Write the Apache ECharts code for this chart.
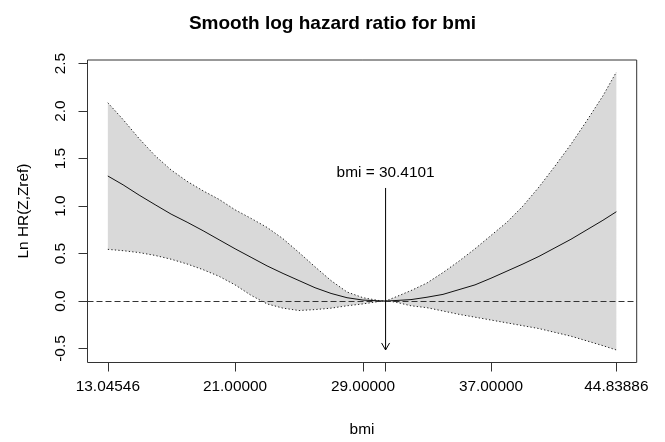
<!DOCTYPE html>
<html><head><meta charset="utf-8">
<script src="https://cdn.jsdelivr.net/npm/echarts@6/dist/echarts.min.js"></script>
<style>html,body{margin:0;padding:0;background:#fff}#c{width:665px;height:442px}</style>
</head><body><div id="c"></div>
<script>
// ---- data ----
const bmi = [13.04546,14,15,16,17,18,19,20,21,22,23,24,25,26,27,28,29,30,30.4101,
             31,32,33,34,35,36,37,38,39,40,41,42,43,44,44.83886];
const estimate = [1.316,1.223,1.115,1.014,0.915,0.830,0.740,0.645,0.550,0.460,0.370,0.290,0.215,0.140,0.080,0.035,0.010,0.002,0,
                  0.005,0.015,0.040,0.070,0.120,0.170,0.240,0.315,0.390,0.470,0.560,0.650,0.750,0.850,0.940];
const upper = [2.087,1.910,1.710,1.530,1.380,1.260,1.160,1.070,0.960,0.870,0.775,0.655,0.510,0.360,0.215,0.095,0.035,0.005,0,
               0.040,0.110,0.190,0.300,0.420,0.550,0.690,0.830,1.000,1.200,1.420,1.650,1.900,2.160,2.410];
const lower = [0.544,0.530,0.510,0.480,0.440,0.390,0.330,0.260,0.170,0.060,-0.030,-0.075,-0.100,-0.090,-0.075,-0.050,-0.030,-0.005,0,
               -0.010,-0.050,-0.070,-0.105,-0.140,-0.170,-0.200,-0.230,-0.260,-0.290,-0.330,-0.370,-0.420,-0.470,-0.515];
const xTickValues = [13.04546,21,29,30.4101,37,44.83886];
const xLabelValues = [13.04546,21,29,37,44.83886];
const yTickValues = [-0.5,0,0.5,1,1.5,2,2.5];
const refValue = 30.4101;
const refLabel = 'bmi = 30.4101';
const arrowFrom = 1.19, arrowTo = -0.515, refLabelY = 1.352;
const titleText = 'Smooth log hazard ratio for bmi';
const xTitle = 'bmi';
const yTitle = 'Ln HR(Z,Zref)';

const FONT = "'Liberation Sans', Arial, sans-serif";
const pts = arr => bmi.map((b, i) => [b, arr[i]]);

const chart = echarts.init(document.getElementById('c'), null, {renderer: 'canvas'});
chart.setOption({
  animation: false,
  backgroundColor: '#fff',
  title: {
    text: titleText, left: 'center', top: 9,
    textStyle: {fontFamily: FONT, fontWeight: 'bold', fontSize: 19, color: '#000'}
  },
  grid: {left: 87.5, right: 28.3, top: 60, bottom: 79.5, show: true, borderColor: '#333', borderWidth: 1, backgroundColor: 'transparent'},
  xAxis: {
    type: 'value', min: 11.7737, max: 46.1106,
    axisLine: {show: false, onZero: false}, splitLine: {show: false},
    axisTick: {show: true, inside: false, length: 9, customValues: xTickValues, lineStyle: {color: '#333'}},
    axisLabel: {show: true, customValues: xLabelValues, margin: 17, formatter: v => v.toFixed(5),
      fontFamily: FONT, fontSize: 15.4, color: '#000', showMinLabel: true, showMaxLabel: true, hideOverlap: false}
  },
  yAxis: {
    type: 'value', min: -0.647, max: 2.537,
    axisLine: {show: false, onZero: false}, splitLine: {show: false},
    axisTick: {show: true, inside: false, length: 9, customValues: yTickValues, lineStyle: {color: '#333'}},
    axisLabel: {show: true, customValues: yTickValues, rotate: 90, margin: 19, formatter: v => v.toFixed(1),
      fontFamily: FONT, fontSize: 15.4, color: '#000'}
  },
  graphic: [
    {type: 'text', x: 362, y: 430, style: {text: xTitle, fontFamily: FONT, fontSize: 15.4, fill: '#000', align: 'center', verticalAlign: 'middle'}},
    {type: 'text', x: 23.5, y: 211, rotation: Math.PI / 2, style: {text: yTitle, fontFamily: FONT, fontSize: 15.4, fill: '#000', align: 'center', verticalAlign: 'middle'}}
  ],
  series: [
    {name: 'band', type: 'custom', data: [[bmi[0], lower[0], upper[0]]], encode: {x: 0, y: [1, 2]}, silent: true,
     renderItem: (params, api) => {
       const top = bmi.map((b, i) => api.coord([b, upper[i]]));
       const bot = bmi.map((b, i) => api.coord([b, lower[i]])).reverse();
       return {type: 'polygon', shape: {points: top.concat(bot)}, style: {fill: '#d9d9d9', stroke: null}};
     },
     z: 1},
    {name: 'zero', type: 'line', data: [], silent: true, z: 2,
     markLine: {silent: true, symbol: ['none', 'none'], label: {show: false},
       lineStyle: {color: '#333', width: 1, type: [6, 3]}, data: [{yAxis: 0}]}},
    {name: 'upper', type: 'line', data: pts(upper), symbol: 'none', z: 3,
     lineStyle: {color: '#222', width: 1, type: [1.3, 2.2]}},
    {name: 'lower', type: 'line', data: pts(lower), symbol: 'none', z: 3,
     lineStyle: {color: '#222', width: 1, type: [1.3, 2.2]}},
    {name: 'estimate', type: 'line', data: pts(estimate), symbol: 'none', z: 4,
     lineStyle: {color: '#111', width: 1}},
    {name: 'ref', type: 'custom', data: [[refValue, arrowFrom, arrowTo, refLabelY]], z: 5,
     encode: {x: 0, y: [1, 2]}, clip: false,
     renderItem: (params, api) => {
       const p0 = api.coord([api.value(0), api.value(1)]);
       const p1 = api.coord([api.value(0), api.value(2)]);
       const pt = api.coord([api.value(0), api.value(3)]);
       const h = 7, w = 4;
       return {type: 'group', children: [
         {type: 'line', shape: {x1: p0[0], y1: p0[1], x2: p1[0], y2: p1[1]}, style: {stroke: '#000', lineWidth: 1}},
         {type: 'polyline', shape: {points: [[p1[0] - w, p1[1] - h], [p1[0], p1[1]], [p1[0] + w, p1[1] - h]]},
          style: {stroke: '#000', fill: null, lineWidth: 1}},
         {type: 'text', x: pt[0], y: pt[1], style: {text: refLabel, fontFamily: FONT, fontSize: 15.4, fill: '#000', align: 'center', verticalAlign: 'middle'}}
       ]};
     }}
  ]
});
</script></body></html>
